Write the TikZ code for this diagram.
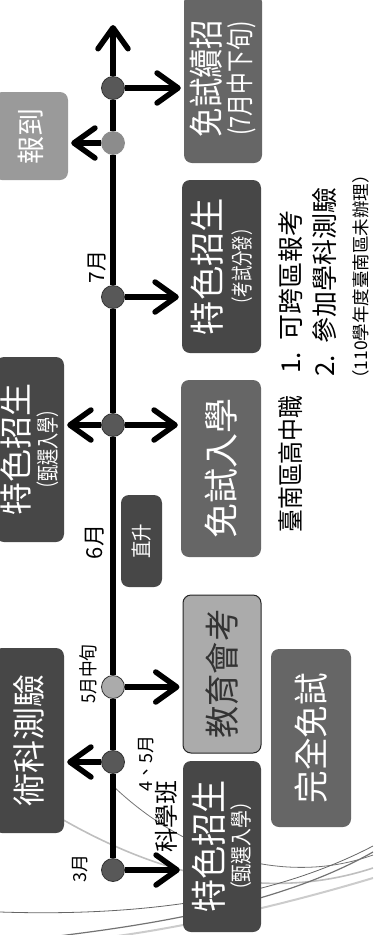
\documentclass[tikz,border=0pt]{standalone}
\usepackage{fontspec}
\setmainfont{Noto Sans CJK TC}
\usepackage{graphicx}
\usetikzlibrary{arrows.meta}

\definecolor{boxdark}{HTML}{474747}
\definecolor{boxmid}{HTML}{666666}
\definecolor{boxlight}{HTML}{ABABAB}
\definecolor{boxrep}{HTML}{9A9A9A}
\definecolor{dotdark}{HTML}{585858}

\newcommand{\fs}[1]{\fontsize{#1}{#1}\selectfont}
\newcommand{\cnd}[2]{\scalebox{#1}[1]{#2}}

\begin{document}
\begin{tikzpicture}[x=1pt,y=-1pt,
  box/.style={rounded corners=8pt,rotate=90,text=white,align=center,inner sep=0pt},
  dot/.style={circle,draw=black!80,line width=0.8pt,fill=dotdark,minimum size=23pt,inner sep=0pt},
  main/.style={line width=6pt},
  arr/.style={line width=6pt,-{Straight Barb[round,length=21pt,width=30pt,line width=5.5pt]},shorten >=3pt},
  lbl/.style={rotate=90,inner sep=0pt},
  swoosh/.style={draw=black!55,line width=0.8pt}]
\useasboundingbox (0,0) rectangle (373,935);
\clip (0,0) rectangle (373,935);

% background lines
\draw[swoosh] (112,785) .. controls (190,860) and (290,885) .. (373,855);
\draw[swoosh,draw=black!25,line width=1.6pt] (60,818) .. controls (150,870) and (260,905) .. (373,868);
\draw[swoosh,draw=black!60] (0,912) .. controls (120,916) and (260,905) .. (373,846);
\draw[swoosh,draw=black!55,line width=1.2pt] (50,937) .. controls (150,925) and (280,905) .. (373,852);
\draw[swoosh,draw=black!20,line width=2pt] (110,937) .. controls (200,925) and (300,900) .. (373,878);

% boxes
\node[box,fill=boxmid,minimum width=169pt,minimum height=78pt,font=\fontsize{35}{31}\selectfont]
  (mszz) at (223,78.5) {\cnd{0.84}{免試續招}\\{\fs{28}\cnd{0.78}{(7月中下旬)}}};
\node[box,fill=boxrep,minimum width=88pt,minimum height=74pt,font=\fs{28}]
  (rep) at (31,136) {報到};
\node[box,fill=boxdark,minimum width=173pt,minimum height=79pt,font=\fontsize{35}{30}\selectfont]
  (tzks) at (221.5,266.5) {\cnd{0.98}{特色招生}\\{\fs{22}\cnd{0.7}{（考試分發）}}};
\node[box,fill=boxdark,minimum width=185pt,minimum height=68pt,font=\fontsize{33}{28}\selectfont]
  (tzsel) at (30,449.5) {特色招生\\{\fs{23}\cnd{0.7}{（甄選入學）}}};
\node[box,fill=boxmid,minimum width=177pt,minimum height=80pt,font=\fs{35}]
  (msrx) at (221,468.5) {免試入學};
\node[box,fill=boxdark,minimum width=92pt,minimum height=41pt,font=\fs{21}]
  (zs) at (141.5,541) {\cnd{0.83}{直升}};
\node[box,fill=boxlight,draw=black!85,line width=1pt,text=black!80,minimum width=158pt,minimum height=78pt,font=\fs{35}]
  (jyhk) at (222,674) {\cnd{0.92}{教育會考}};
\node[box,fill=boxmid,minimum width=178pt,minimum height=80pt,font=\fs{35}]
  (wqms) at (311,738) {\cnd{0.93}{完全免試}};
\node[box,fill=boxdark,minimum width=185pt,minimum height=70pt,font=\fs{33}]
  (skcy) at (29,740.5) {術科測驗};
\node[box,fill=boxdark,minimum width=171pt,minimum height=78pt,font=\fontsize{36}{27}\selectfont]
  (tzsel2) at (222,846.5) {\cnd{0.92}{特色招生}\\{\fs{22}\cnd{0.81}{（甄選入學）}}};

% timeline
\node[dot] (c3) at (113,870) {};
\node[dot] (c45) at (113,762) {};
\node[dot,fill=boxlight] (c5m) at (113,687) {};
\node[dot] (c6) at (113,425) {};
\node[dot] (c7) at (113,297) {};
\node[dot,fill=black!45,draw=black!45] (crep) at (113,143) {};
\node[dot] (cadd) at (113,88) {};
\coordinate (top) at (113,25);

\foreach \a/\b in {c3/c45,c45/c5m,c5m/c6,c6/c7,c7/crep,crep/cadd}
  \draw[main] (\a) -- (\b);
\draw[arr,shorten >=0pt] (cadd) -- (top);

\draw[arr] (cadd) -- (cadd -| mszz.north);
\draw[arr] (crep) -- (crep -| rep.south);
\draw[arr] (c7) -- (c7 -| tzks.north);
\draw[arr] (c6) -- (c6 -| tzsel.south);
\draw[arr] (c6) -- (c6 -| msrx.north);
\draw[arr] (c5m) -- (c5m -| jyhk.north);
\draw[arr] (c45) -- (c45 -| skcy.south);
\draw[arr] (c3) -- (c3 -| tzsel2.north);

% months
\node[lbl,font=\fs{21}] (m7) at (97,267) {7月};
\node[lbl,font=\fs{22}] (m6) at (95,542) {6月};
\node[lbl,font=\fs{19}] (m5) at (88,674) {\cnd{0.88}{5月中旬}};
\node[lbl,font=\fs{18}] (m45) at (146,763) {4、5月};
\node[lbl,font=\fs{24}] (kxb) at (166,816) {科學班};
\node[lbl,font=\fs{18}] (m3) at (80,868) {3月};

% notes
\node[lbl,font=\fs{26}] (tnq) at (291,464) {\cnd{0.88}{臺南區高中職}};
\node[lbl,font=\fs{26},anchor=west] (n1) at (291,374) {1.\hspace{0.45em}可跨區報考};
\node[lbl,font=\fs{26},anchor=west] (n2) at (325,377) {2.\hspace{0.45em}參加學科測驗};
\node[lbl,font=\fs{17.5}] (n3) at (361,277) {（110學年度臺南區未辦理）};
\end{tikzpicture}
\end{document}
